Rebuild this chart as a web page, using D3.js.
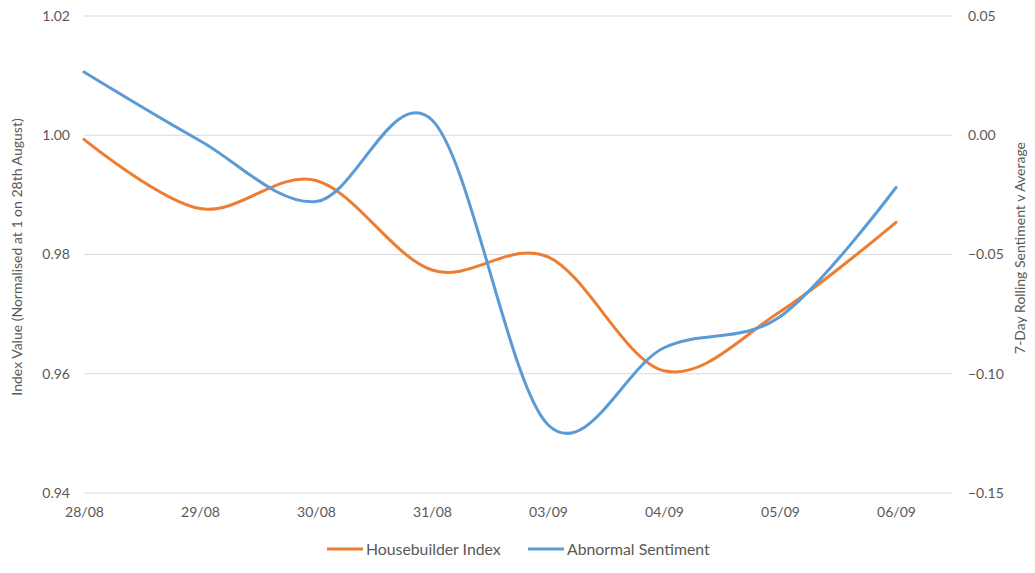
<!DOCTYPE html>
<html>
<head>
<meta charset="utf-8">
<script src="https://cdn.jsdelivr.net/npm/d3@7"></script>
<style>
  body { margin: 0; background: #fff; }
  text { font-family: Lato, "Open Sans", sans-serif; fill: #595959; }
</style>
</head>
<body>
<div id="chart"></div>
<script>
const categories = ['28/08', '29/08', '30/08', '31/08', '03/09', '04/09', '05/09', '06/09']
const housebuilder = [0.9993, 0.9877, 0.9924, 0.9774, 0.9796, 0.9605, 0.9704, 0.9854]
const sentiment = [0.0265, -0.0023, -0.0278, 0.0064, -0.1214, -0.0891, -0.0761, -0.0219]
const leftTicks = [0.94, 0.96, 0.98, 1.00, 1.02]
const rightTicks = [-0.15, -0.10, -0.05, 0.00, 0.05]
const seriesNames = ['Housebuilder Index', 'Abnormal Sentiment']
const colors = ['#ED7D31', '#5B9BD5']

const w = 1035
const h = 573
const margin = { top: 16, right: 83, bottom: 80, left: 84 }
const width = w - margin.left - margin.right
const height = h - margin.top - margin.bottom

const svg = d3.select('#chart').append('svg')
  .attr('width', w)
  .attr('height', h)

const g = svg.append('g').attr('transform', 'translate(' + margin.left + ',' + margin.top + ')')

// points sit on tick marks, spaced 116px, plot area runs on half a step past the last one
const step = 116
const x = d3.scalePoint().domain(categories).range([0, step * (categories.length - 1)])
const yL = d3.scaleLinear().domain([0.94, 1.02]).range([height, 0])
const yR = d3.scaleLinear().domain([-0.15, 0.05]).range([height, 0])

// gridlines
g.append('g')
  .selectAll('line')
  .data(leftTicks)
  .enter().append('line')
  .attr('x1', 0)
  .attr('x2', width)
  .attr('y1', d => yL(d))
  .attr('y2', d => yL(d))
  .attr('stroke', '#D9D9D9')
  .attr('stroke-width', 1)

// left axis
const axL = g.append('g')
  .call(d3.axisLeft(yL).tickValues(leftTicks).tickFormat(d3.format('.2f')).tickSize(0).tickPadding(14))
axL.select('.domain').remove()
axL.selectAll('text').style('font-size', '14px').attr('fill', '#595959')

// right axis
const axR = g.append('g')
  .attr('transform', 'translate(' + width + ',0)')
  .call(d3.axisRight(yR).tickValues(rightTicks).tickFormat(d3.format('.2f')).tickSize(0).tickPadding(16))
axR.select('.domain').remove()
axR.selectAll('text').style('font-size', '14px').attr('fill', '#595959')

// x axis
const axX = g.append('g')
  .attr('transform', 'translate(0,' + height + ')')
  .call(d3.axisBottom(x).tickSize(0).tickPadding(14))
axX.select('.domain').remove()
axX.selectAll('text').style('font-size', '14px').attr('fill', '#595959')

// axis titles
svg.append('text')
  .attr('transform', 'translate(22,' + 257 + ') rotate(-90)')
  .attr('text-anchor', 'middle')
  .style('font-size', '14px')
  .text('Index Value (Normalised at 1 on 28th August)')

svg.append('text')
  .attr('transform', 'translate(1025,' + 248 + ') rotate(-90)')
  .attr('text-anchor', 'middle')
  .style('font-size', '14px')
  .text('7-Day Rolling Sentiment v Average')

// lines
const lineL = d3.line()
  .x((d, i) => x(categories[i]))
  .y(d => yL(d))
  .curve(d3.curveCatmullRom.alpha(0))

const lineR = d3.line()
  .x((d, i) => x(categories[i]))
  .y(d => yR(d))
  .curve(d3.curveCatmullRom.alpha(0))

g.append('path')
  .datum(housebuilder)
  .attr('fill', 'none')
  .attr('stroke', colors[0])
  .attr('stroke-width', 3)
  .attr('stroke-linecap', 'round')
  .attr('d', lineL)

g.append('path')
  .datum(sentiment)
  .attr('fill', 'none')
  .attr('stroke', colors[1])
  .attr('stroke-width', 3)
  .attr('stroke-linecap', 'round')
  .attr('d', lineR)

// legend
const legendX = [327, 528]
const legend = svg.append('g')
  .selectAll('g')
  .data(seriesNames)
  .enter().append('g')
  .attr('transform', (d, i) => 'translate(' + legendX[i] + ',549)')

legend.append('line')
  .attr('x1', 0)
  .attr('x2', 36)
  .attr('stroke', (d, i) => colors[i])
  .attr('stroke-width', 3)

legend.append('text')
  .attr('x', 39)
  .attr('dy', '0.35em')
  .style('font-size', '15.8px')
  .text(d => d)
</script>
</body>
</html>
